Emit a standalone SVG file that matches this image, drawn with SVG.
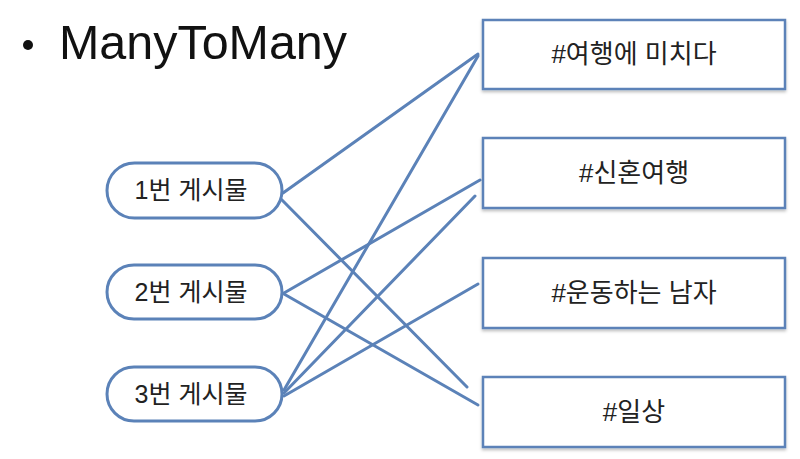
<svg xmlns="http://www.w3.org/2000/svg" width="800" height="459" viewBox="0 0 800 459">
<defs>
<filter id="sh" x="-10%" y="-10%" width="120%" height="130%">
<feDropShadow dx="0" dy="2" stdDeviation="1.5" flood-color="#000" flood-opacity="0.25"/>
</filter>
</defs>
<style>
.pill{fill:#fff;stroke:#5b82b8;stroke-width:3}
.box{fill:#fff;stroke:#5b82b8;stroke-width:2.5;filter:url(#sh)}
.lbl{font-family:"Liberation Sans","Noto Sans CJK KR",sans-serif;font-size:25px;fill:#222;text-anchor:middle;dominant-baseline:central}
.tag{font-size:26px}
.con line{stroke:#5b82b8;stroke-width:3;stroke-linecap:round}
</style>
<rect width="800" height="459" fill="#fff"/>
<g id="title">
<circle cx="28" cy="45" r="5" fill="#111"/>
<text x="59" y="59" font-family="Liberation Sans, Arial, sans-serif" font-size="48" fill="#111" textLength="288" lengthAdjust="spacingAndGlyphs">ManyToMany</text>
</g>
<g id="connectors" class="con">
<line x1="283" y1="193" x2="478" y2="54"/>
<line x1="281" y1="199" x2="467" y2="387"/>
<line x1="284" y1="293" x2="480" y2="180"/>
<line x1="284" y1="294" x2="478" y2="405"/>
<line x1="284" y1="390" x2="478" y2="56"/>
<line x1="284" y1="393" x2="475" y2="196"/>
<line x1="284" y1="396" x2="478" y2="284"/>
</g>
<g id="post1"><rect class="pill" x="107" y="163" width="175" height="55" rx="27.5"/><text class="lbl" x="191" y="190">1번 게시물</text></g>
<g id="post2"><rect class="pill" x="107" y="265" width="175" height="54" rx="27"/><text class="lbl" x="191" y="292">2번 게시물</text></g>
<g id="post3"><rect class="pill" x="107" y="367" width="175" height="54" rx="27"/><text class="lbl" x="191" y="394">3번 게시물</text></g>
<g id="tag1"><rect class="box" x="483" y="20" width="302" height="69"/><text class="lbl tag" x="634" y="54">#여행에 미치다</text></g>
<g id="tag2"><rect class="box" x="483" y="138" width="302" height="70"/><text class="lbl tag" x="634" y="173">#신혼여행</text></g>
<g id="tag3"><rect class="box" x="483" y="258" width="302" height="70"/><text class="lbl tag" x="634" y="293">#운동하는 남자</text></g>
<g id="tag4"><rect class="box" x="483" y="377" width="302" height="70"/><text class="lbl tag" x="634" y="412">#일상</text></g>
</svg>
